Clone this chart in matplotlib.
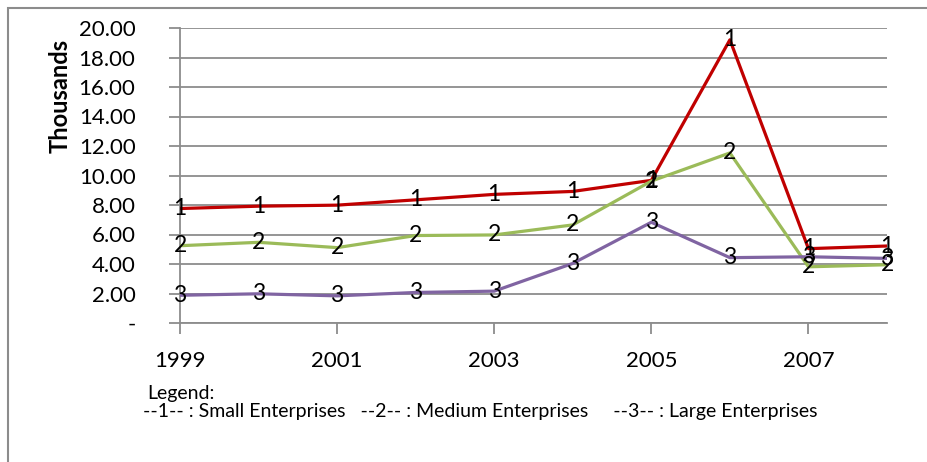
import numpy as np
import matplotlib.pyplot as plt
from matplotlib.patches import Rectangle

plt.rcParams['font.family'] = ['Lato', 'DejaVu Sans']

years = [1999, 2000, 2001, 2002, 2003, 2004, 2005, 2006, 2007, 2008]
small = [7.76, 7.92, 7.99, 8.35, 8.72, 8.92, 9.67, 19.2, 5.04, 5.22]
medium = [5.24, 5.47, 5.11, 5.93, 5.97, 6.65, 9.62, 11.53, 3.81, 3.95]
large = [1.88, 1.98, 1.84, 2.07, 2.16, 4.04, 6.83, 4.43, 4.49, 4.38]

series = [('1', small, '#C00000'), ('2', medium, '#9BBB59'), ('3', large, '#8064A2')]

fig = plt.figure(figsize=(9.28, 4.62), dpi=100)
fig.patches.append(Rectangle((8 / 928, -0.1), 1.2, 1 - 8 / 462 + 0.1,
                             transform=fig.transFigure, fill=False,
                             edgecolor='#8c8c8c', linewidth=1.5))

ax = fig.add_axes([180 / 928, 1 - 323 / 462, (887 - 180) / 928, (323 - 28) / 462])

for mark, vals, color in series:
    ax.plot(years, vals, color=color, linewidth=2.3, zorder=3)
    for x, y in zip(years, vals):
        ax.text(x, y, mark, ha='center', va='center', fontsize=16.5, zorder=4)

ax.set_xlim(1999, 2008)
ax.set_ylim(0, 20)
ax.set_xticks([1999, 2001, 2003, 2005, 2007])
ax.set_yticks(np.arange(0, 21, 2))
ax.set_yticklabels(['-'] + ['%.2f' % v for v in np.arange(2, 21, 2)])
ax.grid(axis='y', color='#8c8c8c', linewidth=1.3)
ax.set_axisbelow(True)
for s in ['top', 'right']:
    ax.spines[s].set_visible(False)
for s in ['left', 'bottom']:
    ax.spines[s].set_color('#8c8c8c')
    ax.spines[s].set_linewidth(1.3)
ax.tick_params(axis='both', length=8, width=1.3, color='#8c8c8c', labelsize=16)
ax.tick_params(axis='y', pad=24)
ax.tick_params(axis='x', pad=12)

fig.text(60 / 928, 1 - 96 / 462, 'Thousands', fontsize=17, fontweight='bold',
         rotation=90, ha='center', va='center')

fig.text(147 / 928, 1 - 393 / 462, 'Legend:', fontsize=14, va='center')
fig.text(143 / 928, 1 - 412 / 462,
         '--1-- : Small Enterprises   --2-- : Medium Enterprises     --3-- : Large Enterprises',
         fontsize=14, va='center')

plt.savefig('out.png', dpi=100)
